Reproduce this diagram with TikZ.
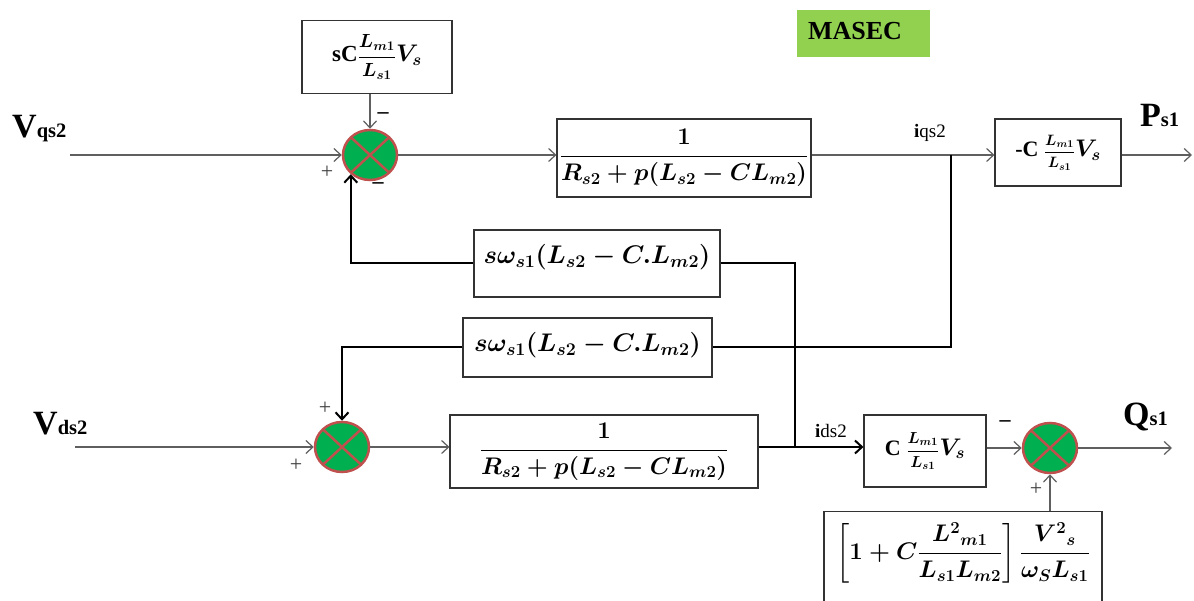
\RequirePackage{fix-cm}
\documentclass[tikz,border=0pt]{standalone}
\usepackage[no-math]{fontspec}
\setmainfont{Liberation Serif}
\usepackage{amsmath}
\usetikzlibrary{shapes.geometric,arrows.meta}
\definecolor{sumgreen}{RGB}{0,176,80}
\definecolor{sumred}{RGB}{192,80,77}
\definecolor{masecgreen}{RGB}{146,208,80}
\definecolor{lgray}{RGB}{95,95,95}
\newcommand\bx{\fontsize{24}{28}\selectfont\bfseries\boldmath}
\newcommand\bxw{\fontsize{25.5}{28}\selectfont\bfseries\boldmath}
\newcommand\fsz[1]{\fontsize{#1}{#1}\selectfont}
\newcommand\lblbig{\fontsize{34}{36}\selectfont\bfseries}
\newcommand\lblsub{\fontsize{20.5}{21}\selectfont\bfseries}
\tikzset{
  blk/.style={draw=black!80, line width=1.1pt, rectangle, inner sep=0pt, font=\bx},
  summer/.style={ellipse, fill=sumgreen, draw=sumred, line width=2.5pt,
    minimum width=54pt, minimum height=50pt, inner sep=0pt,
    path picture={\draw[sumred,line width=2.5pt]
      (path picture bounding box.north west) -- (path picture bounding box.south east)
      (path picture bounding box.north east) -- (path picture bounding box.south west);}},
  thin/.style={draw=lgray, line width=1.2pt},
  thick/.style={draw=black, line width=2pt},
  tarr/.style={-{Straight Barb[length=7pt,width=13pt]}},
  sign/.style={font=\fontsize{22}{22}\selectfont, inner sep=0pt, text=black!75},
  bsign/.style={font=\fontsize{22}{22}\selectfont\bfseries, inner sep=0pt},
  lbl/.style={inner sep=0pt, anchor=base west},
}
\begin{document}
\begin{tikzpicture}[x=1pt,y=-1pt]
\useasboundingbox (0,0) rectangle (1194,601);
\fill[white] (0,0) rectangle (1194,601);
\clip (0,0) rectangle (1194,601);

% MASEC
\node[fill=masecgreen, minimum width=133pt, minimum height=47pt, inner sep=0pt] (masec) at (863.5,33.5) {};
\node[inner sep=0pt, font=\fontsize{26}{26}\selectfont\bfseries] (masect) at (855,31) {MASEC};

% blocks
\node[blk, minimum width=150pt, minimum height=73pt] (top) at (377,57)
  {\fsz{23}sC{\fsz{19}$\dfrac{L_{m1}}{L_{s1}}$}\fsz{24}$V_s$};
\node[blk, minimum width=254pt, minimum height=78pt] (box1) at (684,158)
  {$\dfrac{1}{R_{s2}+p(L_{s2}-CL_{m2})}$};
\node[blk, minimum width=126pt, minimum height=67pt] (boxP) at (1058,152.5)
  {\fsz{22}-C {\fsz{15}$\dfrac{L_{m1}}{L_{s1}}$}\fsz{24}$V_s$};
\node[blk, minimum width=246pt, minimum height=67pt] (fb1) at (597,263.5) {};
\node[inner sep=0pt, font=\bxw] (fb1t) at (597,257) {$s\omega_{s1}(L_{s2}-C.L_{m2})$};
\node[blk, minimum width=249pt, minimum height=59pt] (fb2) at (587.5,347.5) {};
\node[inner sep=0pt, font=\bxw] (fb2t) at (587.5,345) {$s\omega_{s1}(L_{s2}-C.L_{m2})$};
\node[blk, minimum width=308pt, minimum height=73pt] (box2) at (604,451.5)
  {$\dfrac{1}{R_{s2}+p(L_{s2}-CL_{m2})}$};
\node[blk, minimum width=122pt, minimum height=72pt] (boxC) at (925,451)
  {\fsz{22}C {\fsz{16}$\dfrac{L_{m1}}{L_{s1}}$}\fsz{24}$V_s$};
\node[blk, minimum width=278pt, minimum height=100pt, anchor=north] (bot) at (963,511)
  {};
\node[inner sep=0pt, font=\bx] (bott) at (963,553)
  {$\left[1+C\dfrac{L^{2}{}_{m1}}{L_{s1}L_{m2}}\right]\dfrac{V^{2}{}_{s}}{\omega_S L_{s1}}$};

% summers
\node[summer] (s1) at (370,155) {};
\node[summer] (s2) at (342,447) {};
\node[summer] (s3) at (1050,448) {};

% coordinates
\coordinate (vq) at (70,155);
\coordinate (vd) at (75,447);
\coordinate (pout) at (1192,155);
\coordinate (qout) at (1172,448);
\coordinate (j1) at (951,155);
\coordinate (j2) at (795,447);

% thin connectors
\draw[thin,tarr] (vq) -- (s1.west);
\draw[thin,tarr] (s1.north |- top.south) -- (s1.north);
\draw[thin,tarr] (s1.east) -- (box1.west |- s1);
\draw[thin,tarr] (box1.east |- s1) -- (boxP.west |- s1);
\draw[thin,tarr] (boxP.east |- s1) -- (pout);
\draw[thin,tarr] (vd) -- (s2.west);
\draw[thin,tarr] (s2.east) -- (box2.west |- s2);
\draw[thin,tarr] (boxC.east |- s3) -- (s3.west);
\draw[thin,tarr] (s3.east) -- (qout);
\draw[thin,tarr] (bot.north -| s3) -- (s3.south);

% thick connectors
\draw[thick,tarr] (fb1.west |- 0,263) -| (s1.225);
\draw[thick] (fb1.east |- 0,263) -| (j2);
\draw[thick] (j1) |- (fb2.east);
\draw[thick,tarr] (fb2.west) -| (s2.north);
\draw[thick,tarr] (box2.east |- s2) -- (boxC.west |- s2);

% signs
\node[bsign] at (383,116) {–};
\node[sign] at (327,172) {+};
\node[bsign] at (378,186) {–};
\node[sign] at (325,408) {+};
\node[sign] at (296,465) {+};
\node[bsign] at (1005,424) {–};
\node[sign] at (1036,489) {+};

% labels
\node[lbl] (lvq) at (12,138) {\lblbig V\lblsub qs2};
\node[lbl] (lvd) at (33,434) {\lblbig V\lblsub ds2};
\node[lbl] (lps) at (1140,127) {\lblbig P\lblsub s1};
\node[lbl] (lqs) at (1123,425) {\lblbig Q\lblsub s1};
\node[lbl, font=\fontsize{19}{19}\selectfont] (liq) at (914,138) {\textbf{i}qs2};
\node[lbl, font=\fontsize{19}{19}\selectfont] (lid) at (815,437) {\textbf{i}ds2};
\end{tikzpicture}
\end{document}
